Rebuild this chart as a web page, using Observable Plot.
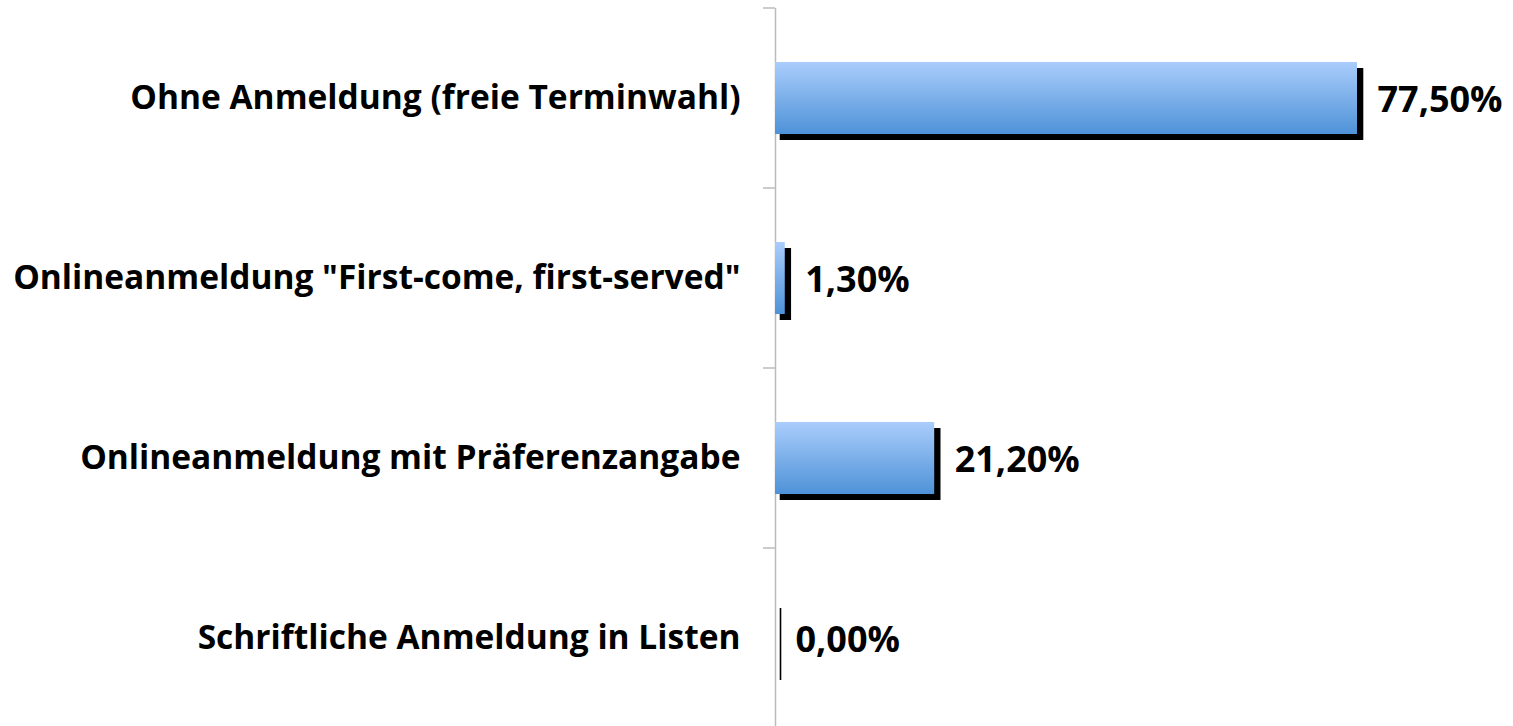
<!DOCTYPE html>
<html>
<head>
<meta charset="utf-8">
<script src="https://cdn.jsdelivr.net/npm/d3@7"></script>
<script src="https://cdn.jsdelivr.net/npm/@observablehq/plot@0.6"></script>
<style>
  html, body { margin: 0; padding: 0; background: #fff; overflow: hidden; }
</style>
</head>
<body>
<div id="chart"></div>
<script>
const categories = [
  "Ohne Anmeldung (freie Terminwahl)",
  "Onlineanmeldung \"First-come, first-served\"",
  "Onlineanmeldung mit Präferenzangabe",
  "Schriftliche Anmeldung in Listen"
];
const values = [77.5, 1.3, 21.2, 0.0];
const valueLabels = ["77,50%", "1,30%", "21,20%", "0,00%"];

const data = categories.map((c, i) => ({cat: c, value: values[i], label: valueLabels[i]}));

const gradientDefs = () => {
  const defs = d3.create("svg:defs");
  const g = defs.append("linearGradient")
    .attr("id", "barGrad").attr("x1", 0).attr("y1", 0).attr("x2", 0).attr("y2", 1);
  g.append("stop").attr("offset", "0%").attr("stop-color", "#aacdfc");
  g.append("stop").attr("offset", "100%").attr("stop-color", "#4e92d8");
  return defs.node();
};

const boundaryTicks = (index, scales) => {
  const y = scales.y;
  const bw = y.bandwidth ? y.bandwidth() : 72;
  const step = y.step ? y.step() : 180;
  const x0 = scales.x(0);
  const ys = categories.map(c => y(c) - (step - bw) / 2);
  ys.push(ys[ys.length - 1] + step);
  const g = d3.create("svg:g");
  g.selectAll("line").data(ys).join("line")
    .attr("x1", x0 - 12).attr("x2", x0)
    .attr("y1", d => d).attr("y2", d => d)
    .attr("stroke", "#bbbbbb").attr("stroke-width", 1.5);
  return g.node();
};

const chart = Plot.plot({
  width: 1513,
  height: 726,
  marginLeft: 775,
  marginRight: 156,
  marginTop: 8,
  marginBottom: 0,
  style: {fontFamily: "'Open Sans', Lato, sans-serif", background: "#fff"},
  x: {domain: [0, 77.5], axis: null},
  y: {domain: categories, range: [8, 728], paddingInner: 0.6, paddingOuter: 0.3, label: null},
  marks: [
    gradientDefs,
    Plot.axisY({tickSize: 0, tickPadding: 35, fontSize: 33.5, fontWeight: "bold", label: null, fill: "#000"}),
    Plot.ruleX([0], {stroke: "#bbbbbb", strokeWidth: 1.5}),
    boundaryTicks,
    Plot.barX(data, {x: "value", y: "cat", fill: "#000", insetLeft: -0.8, insetRight: -0.8, dx: 5.5, dy: 6}),
    Plot.barX(data, {x: "value", y: "cat", fill: "url(#barGrad)"}),
    Plot.text(data, {x: "value", y: "cat", text: "label", textAnchor: "start", dx: 20, dy: 2, fontSize: 36, fontWeight: "bold", fill: "#000"})
  ]
});
document.getElementById("chart").appendChild(chart);
</script>
</body>
</html>
